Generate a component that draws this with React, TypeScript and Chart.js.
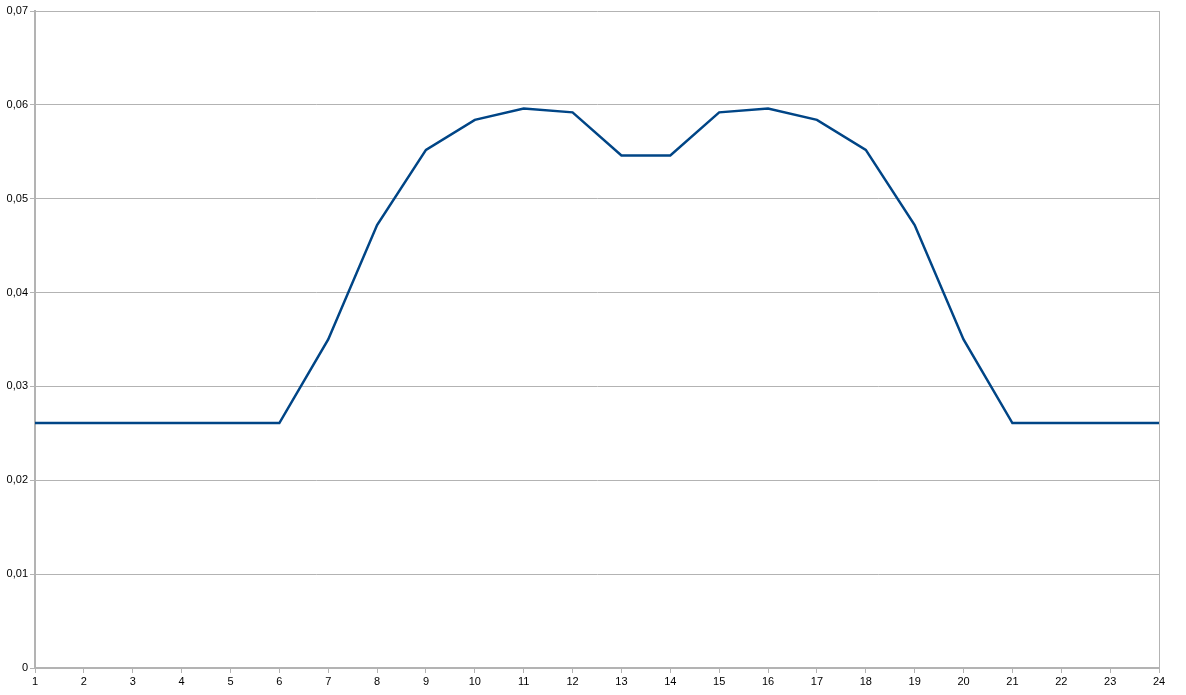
import React, { useEffect, useRef } from "react";
import { Chart, registerables } from "chart.js";

Chart.register(...registerables);

const categories = ["1","2","3","4","5","6","7","8","9","10","11","12","13","14","15","16","17","18","19","20","21","22","23","24"];
const values = [0.0261,0.0261,0.0261,0.0261,0.0261,0.0261,0.0350,0.0472,0.0552,0.0584,0.0596,0.0592,0.0546,0.0546,0.0592,0.0596,0.0584,0.0552,0.0472,0.0350,0.0261,0.0261,0.0261,0.0261];
const yTicks = [0, 0.01, 0.02, 0.03, 0.04, 0.05, 0.06, 0.07];
const yTickLabels = ["0","0,01","0,02","0,03","0,04","0,05","0,06","0,07"];

export default function App() {
  const ref = useRef<HTMLCanvasElement>(null);
  useEffect(() => {
    const grid = "#b3b3b3";
    const chart = new Chart(ref.current!, {
      type: "line",
      data: {
        labels: categories,
        datasets: [{
          data: values,
          borderColor: "#004586",
          borderWidth: 2.5,
          pointRadius: 0,
          tension: 0,
          fill: false,
        }],
      },
      options: {
        animation: false,
        responsive: false,
        maintainAspectRatio: false,
        layout: { padding: { top: 11, right: 27, left: 0, bottom: 0 } },
        plugins: { legend: { display: false }, tooltip: { enabled: false } },
        scales: {
          x: {
            type: "category",
            offset: false,
            afterFit: (s: any) => { s.height = 27; },
            grid: {
              color: (c: any) => (c.index === categories.length - 1 ? grid : "rgba(0,0,0,0)"),
              tickColor: grid,
              tickLength: 5,
              lineWidth: 1,
            },
            border: { color: grid, width: 2 },
            ticks: {
              color: "#000",
              font: { family: "Liberation Sans", size: 11 },
              padding: 2,
              maxRotation: 0,
              autoSkip: false,
            },
          },
          y: {
            min: 0,
            max: 0.07,
            afterFit: (s: any) => { s.width = 35; },
            afterBuildTicks: (s: any) => { s.ticks = yTicks.map((v) => ({ value: v })); },
            grid: { color: grid, tickColor: grid, tickLength: 5, lineWidth: 1 },
            border: { color: grid, width: 2 },
            ticks: {
              color: "#000",
              font: { family: "Liberation Sans", size: 11 },
              padding: 2,
              callback: (v: any) => {
                const i = yTicks.findIndex((t) => Math.abs(t - Number(v)) < 1e-9);
                return i >= 0 ? yTickLabels[i] : "";
              },
            },
          },
        },
      },
    });
    return () => chart.destroy();
  }, []);
  return (
    <div style={{ position: "fixed", left: 0, top: 0, width: 1186, height: 695, background: "#fff" }}>
      <canvas ref={ref} width={1186} height={695} style={{ display: "block" }} />
    </div>
  );
}
